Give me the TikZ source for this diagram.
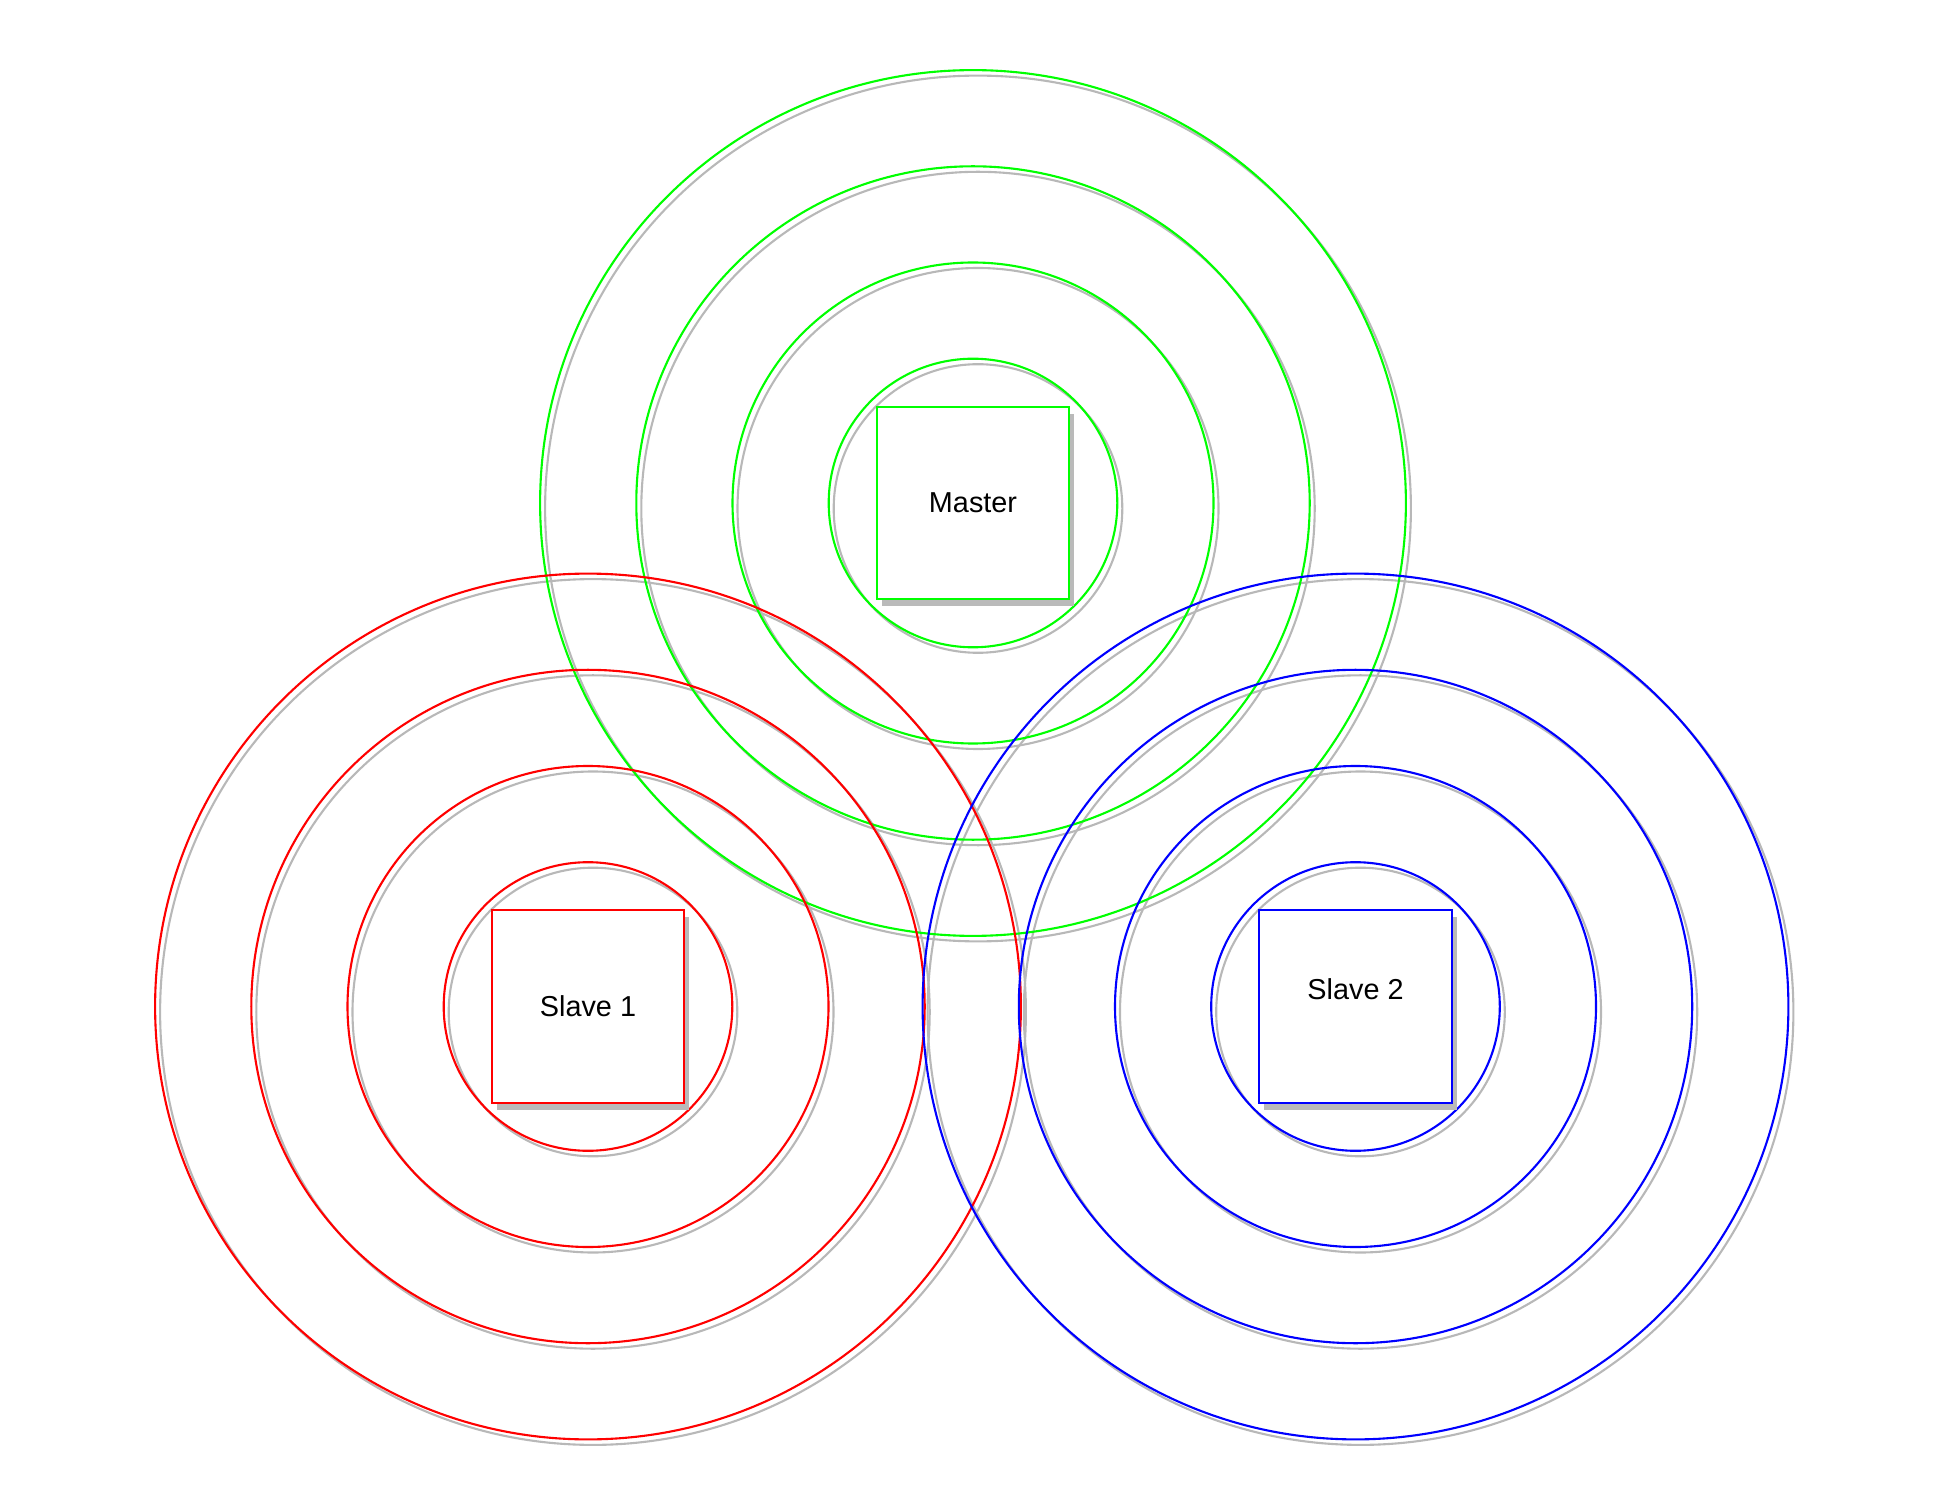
\documentclass[tikz,border=0pt]{standalone}
\usepackage{fontspec}
\setmainfont{Liberation Sans}
\usetikzlibrary{positioning}

\begin{document}
\begin{tikzpicture}[
    box/.style={rectangle, draw=#1, fill=white, line width=0.6pt, minimum size=1.924cm, inner sep=0pt, font=\fontsize{8.2}{10}\selectfont},
    boxshadow/.style={rectangle, fill=black!27, minimum size=1.924cm, inner sep=0pt},
    ring/.style={draw=#1, line width=0.6pt},
    ringshadow/.style={draw=black!28, line width=0.6pt}
]
    \useasboundingbox (0,0) rectangle (19.34,15.03);

    \coordinate (mc) at (9.73,10.0);
    \coordinate (s1c) at (5.88,4.965);
    \coordinate (s2c) at (13.555,4.965);

    \foreach \c in {mc, s1c, s2c}
        \foreach \r in {1.443, 2.405, 3.367, 4.329}
            \draw[ringshadow] ([shift={(0.05,-0.055)}]\c) circle (\r);

    \foreach \c/\col in {mc/green, s1c/red, s2c/blue}
        \foreach \r in {1.443, 2.405, 3.367, 4.329}
            \draw[ring=\col] (\c) circle (\r);

    \node[boxshadow] (masters) at ([shift={(0.05,-0.07)}]mc) {};
    \node[boxshadow] (slave1s) at ([shift={(0.05,-0.07)}]s1c) {};
    \node[boxshadow] (slave2s) at ([shift={(0.05,-0.07)}]s2c) {};

    \node[box=green] (master) at (mc) {Master};
    \node[box=red] (slave1) at (s1c) {Slave 1};
    \node[box=blue] (slave2) at (s2c) {};
    \node[font=\fontsize{8.2}{10}\selectfont] (slave2t) at ([yshift=0.17cm]slave2.center) {Slave 2};
\end{tikzpicture}
\end{document}
